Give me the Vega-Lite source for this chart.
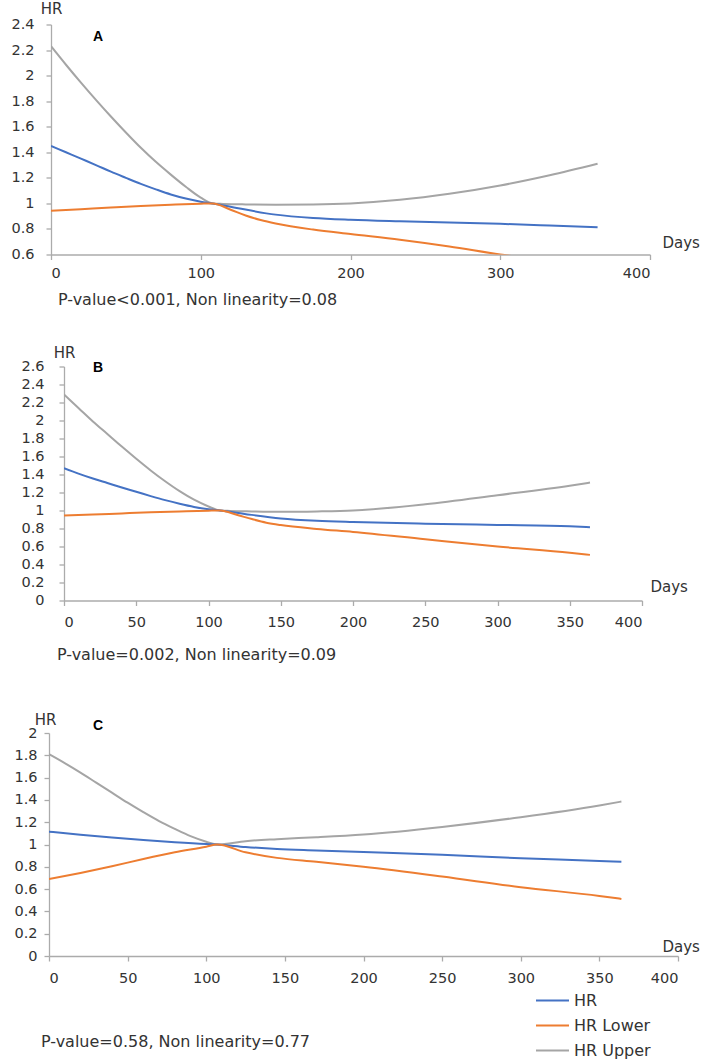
{
  "$schema": "https://vega.github.io/schema/vega-lite/v6.json",
  "padding": {"left": 0, "top": 1.5, "right": 0, "bottom": 0},
  "background": "white",
  "config": {
    "view": {"stroke": null},
    "font": "DejaVu Sans",
    "axis": {"grid": false, "domainColor": "#ababab", "tickColor": "#ababab", "domainWidth": 1.3, "tickWidth": 1.3, "tickSize": 5, "labelFont": "DejaVu Sans", "labelFontSize": 14.5, "labelColor": "#333333", "labelOverlap": false, "titleFont": "DejaVu Sans", "titleFontSize": 15, "titleFontWeight": "normal", "titleColor": "#333333"},
    "title": {"font": "DejaVu Sans", "fontSize": 16, "fontWeight": "normal", "color": "#333333", "orient": "bottom", "anchor": "start", "frame": "group"},
    "legend": {"orient": "none", "legendX": 535, "legendY": 963.5, "direction": "vertical", "symbolType": "stroke", "symbolSize": 1089, "symbolStrokeWidth": 2, "labelFont": "DejaVu Sans", "labelFontSize": 16, "labelColor": "#333333", "labelOffset": 4, "rowPadding": 0, "clipHeight": 25, "padding": 0, "title": null}
  },
  "datasets": {
    "dA": [
      {"day": 0, "series": "HR Upper", "hr": 2.23}, {"day": 10, "series": "HR Upper", "hr": 2.085}, {"day": 20, "series": "HR Upper", "hr": 1.945}, {"day": 30, "series": "HR Upper", "hr": 1.81}, {"day": 40, "series": "HR Upper", "hr": 1.68}, {"day": 50, "series": "HR Upper", "hr": 1.555}, {"day": 60, "series": "HR Upper", "hr": 1.435}, {"day": 70, "series": "HR Upper", "hr": 1.325}, {"day": 80, "series": "HR Upper", "hr": 1.225}, {"day": 90, "series": "HR Upper", "hr": 1.13}, {"day": 100, "series": "HR Upper", "hr": 1.045}, {"day": 108, "series": "HR Upper", "hr": 1.0}, {"day": 115, "series": "HR Upper", "hr": 0.996}, {"day": 130, "series": "HR Upper", "hr": 0.992}, {"day": 150, "series": "HR Upper", "hr": 0.99}, {"day": 175, "series": "HR Upper", "hr": 0.992}, {"day": 200, "series": "HR Upper", "hr": 1.0}, {"day": 233, "series": "HR Upper", "hr": 1.028}, {"day": 266, "series": "HR Upper", "hr": 1.075}, {"day": 300, "series": "HR Upper", "hr": 1.14}, {"day": 333, "series": "HR Upper", "hr": 1.22}, {"day": 365, "series": "HR Upper", "hr": 1.31},
      {"day": 0, "series": "HR", "hr": 1.45}, {"day": 10, "series": "HR", "hr": 1.4}, {"day": 20, "series": "HR", "hr": 1.35}, {"day": 30, "series": "HR", "hr": 1.3}, {"day": 40, "series": "HR", "hr": 1.248}, {"day": 50, "series": "HR", "hr": 1.2}, {"day": 60, "series": "HR", "hr": 1.153}, {"day": 70, "series": "HR", "hr": 1.11}, {"day": 80, "series": "HR", "hr": 1.07}, {"day": 90, "series": "HR", "hr": 1.038}, {"day": 100, "series": "HR", "hr": 1.013}, {"day": 108, "series": "HR", "hr": 1.0}, {"day": 125, "series": "HR", "hr": 0.962}, {"day": 150, "series": "HR", "hr": 0.912}, {"day": 175, "series": "HR", "hr": 0.886}, {"day": 200, "series": "HR", "hr": 0.872}, {"day": 233, "series": "HR", "hr": 0.86}, {"day": 266, "series": "HR", "hr": 0.85}, {"day": 300, "series": "HR", "hr": 0.84}, {"day": 333, "series": "HR", "hr": 0.827}, {"day": 365, "series": "HR", "hr": 0.814},
      {"day": 0, "series": "HR Lower", "hr": 0.942}, {"day": 20, "series": "HR Lower", "hr": 0.955}, {"day": 40, "series": "HR Lower", "hr": 0.968}, {"day": 60, "series": "HR Lower", "hr": 0.98}, {"day": 80, "series": "HR Lower", "hr": 0.99}, {"day": 100, "series": "HR Lower", "hr": 0.998}, {"day": 108, "series": "HR Lower", "hr": 1.0}, {"day": 120, "series": "HR Lower", "hr": 0.95}, {"day": 130, "series": "HR Lower", "hr": 0.905}, {"day": 140, "series": "HR Lower", "hr": 0.87}, {"day": 150, "series": "HR Lower", "hr": 0.843}, {"day": 175, "series": "HR Lower", "hr": 0.795}, {"day": 200, "series": "HR Lower", "hr": 0.76}, {"day": 233, "series": "HR Lower", "hr": 0.716}, {"day": 266, "series": "HR Lower", "hr": 0.663}, {"day": 300, "series": "HR Lower", "hr": 0.6}, {"day": 333, "series": "HR Lower", "hr": 0.55}, {"day": 365, "series": "HR Lower", "hr": 0.5}
    ],
    "dB": [
      {"day": 0, "series": "HR Upper", "hr": 2.29}, {"day": 10, "series": "HR Upper", "hr": 2.14}, {"day": 20, "series": "HR Upper", "hr": 1.99}, {"day": 30, "series": "HR Upper", "hr": 1.85}, {"day": 40, "series": "HR Upper", "hr": 1.71}, {"day": 50, "series": "HR Upper", "hr": 1.575}, {"day": 60, "series": "HR Upper", "hr": 1.445}, {"day": 70, "series": "HR Upper", "hr": 1.325}, {"day": 80, "series": "HR Upper", "hr": 1.215}, {"day": 90, "series": "HR Upper", "hr": 1.12}, {"day": 100, "series": "HR Upper", "hr": 1.045}, {"day": 108, "series": "HR Upper", "hr": 1.0}, {"day": 115, "series": "HR Upper", "hr": 0.995}, {"day": 130, "series": "HR Upper", "hr": 0.99}, {"day": 150, "series": "HR Upper", "hr": 0.986}, {"day": 175, "series": "HR Upper", "hr": 0.99}, {"day": 200, "series": "HR Upper", "hr": 1.0}, {"day": 250, "series": "HR Upper", "hr": 1.07}, {"day": 300, "series": "HR Upper", "hr": 1.17}, {"day": 350, "series": "HR Upper", "hr": 1.275}, {"day": 364, "series": "HR Upper", "hr": 1.31},
      {"day": 0, "series": "HR", "hr": 1.47}, {"day": 10, "series": "HR", "hr": 1.41}, {"day": 20, "series": "HR", "hr": 1.355}, {"day": 30, "series": "HR", "hr": 1.305}, {"day": 40, "series": "HR", "hr": 1.255}, {"day": 50, "series": "HR", "hr": 1.208}, {"day": 60, "series": "HR", "hr": 1.16}, {"day": 70, "series": "HR", "hr": 1.115}, {"day": 80, "series": "HR", "hr": 1.075}, {"day": 90, "series": "HR", "hr": 1.04}, {"day": 100, "series": "HR", "hr": 1.014}, {"day": 108, "series": "HR", "hr": 1.0}, {"day": 125, "series": "HR", "hr": 0.962}, {"day": 150, "series": "HR", "hr": 0.912}, {"day": 175, "series": "HR", "hr": 0.886}, {"day": 200, "series": "HR", "hr": 0.872}, {"day": 250, "series": "HR", "hr": 0.854}, {"day": 300, "series": "HR", "hr": 0.84}, {"day": 350, "series": "HR", "hr": 0.825}, {"day": 364, "series": "HR", "hr": 0.815},
      {"day": 0, "series": "HR Lower", "hr": 0.945}, {"day": 20, "series": "HR Lower", "hr": 0.955}, {"day": 40, "series": "HR Lower", "hr": 0.968}, {"day": 60, "series": "HR Lower", "hr": 0.98}, {"day": 80, "series": "HR Lower", "hr": 0.99}, {"day": 100, "series": "HR Lower", "hr": 0.998}, {"day": 108, "series": "HR Lower", "hr": 1.0}, {"day": 120, "series": "HR Lower", "hr": 0.95}, {"day": 130, "series": "HR Lower", "hr": 0.905}, {"day": 140, "series": "HR Lower", "hr": 0.865}, {"day": 150, "series": "HR Lower", "hr": 0.838}, {"day": 175, "series": "HR Lower", "hr": 0.795}, {"day": 200, "series": "HR Lower", "hr": 0.762}, {"day": 250, "series": "HR Lower", "hr": 0.68}, {"day": 300, "series": "HR Lower", "hr": 0.6}, {"day": 350, "series": "HR Lower", "hr": 0.53}, {"day": 364, "series": "HR Lower", "hr": 0.507}
    ],
    "dC": [
      {"day": 0, "series": "HR Upper", "hr": 1.81}, {"day": 10, "series": "HR Upper", "hr": 1.73}, {"day": 20, "series": "HR Upper", "hr": 1.645}, {"day": 30, "series": "HR Upper", "hr": 1.555}, {"day": 40, "series": "HR Upper", "hr": 1.465}, {"day": 50, "series": "HR Upper", "hr": 1.375}, {"day": 60, "series": "HR Upper", "hr": 1.29}, {"day": 70, "series": "HR Upper", "hr": 1.21}, {"day": 80, "series": "HR Upper", "hr": 1.14}, {"day": 90, "series": "HR Upper", "hr": 1.075}, {"day": 100, "series": "HR Upper", "hr": 1.025}, {"day": 107, "series": "HR Upper", "hr": 1.0}, {"day": 125, "series": "HR Upper", "hr": 1.03}, {"day": 145, "series": "HR Upper", "hr": 1.048}, {"day": 170, "series": "HR Upper", "hr": 1.065}, {"day": 200, "series": "HR Upper", "hr": 1.09}, {"day": 250, "series": "HR Upper", "hr": 1.158}, {"day": 300, "series": "HR Upper", "hr": 1.245}, {"day": 350, "series": "HR Upper", "hr": 1.35}, {"day": 364, "series": "HR Upper", "hr": 1.385},
      {"day": 0, "series": "HR", "hr": 1.115}, {"day": 20, "series": "HR", "hr": 1.088}, {"day": 40, "series": "HR", "hr": 1.063}, {"day": 60, "series": "HR", "hr": 1.04}, {"day": 80, "series": "HR", "hr": 1.02}, {"day": 100, "series": "HR", "hr": 1.004}, {"day": 107, "series": "HR", "hr": 1.0}, {"day": 125, "series": "HR", "hr": 0.978}, {"day": 145, "series": "HR", "hr": 0.96}, {"day": 170, "series": "HR", "hr": 0.947}, {"day": 200, "series": "HR", "hr": 0.932}, {"day": 250, "series": "HR", "hr": 0.907}, {"day": 300, "series": "HR", "hr": 0.877}, {"day": 350, "series": "HR", "hr": 0.853}, {"day": 364, "series": "HR", "hr": 0.845},
      {"day": 0, "series": "HR Lower", "hr": 0.69}, {"day": 20, "series": "HR Lower", "hr": 0.745}, {"day": 40, "series": "HR Lower", "hr": 0.805}, {"day": 60, "series": "HR Lower", "hr": 0.87}, {"day": 80, "series": "HR Lower", "hr": 0.93}, {"day": 100, "series": "HR Lower", "hr": 0.98}, {"day": 107, "series": "HR Lower", "hr": 1.0}, {"day": 125, "series": "HR Lower", "hr": 0.93}, {"day": 145, "series": "HR Lower", "hr": 0.88}, {"day": 170, "series": "HR Lower", "hr": 0.845}, {"day": 200, "series": "HR Lower", "hr": 0.8}, {"day": 250, "series": "HR Lower", "hr": 0.712}, {"day": 300, "series": "HR Lower", "hr": 0.617}, {"day": 350, "series": "HR Lower", "hr": 0.539}, {"day": 364, "series": "HR Lower", "hr": 0.512}
    ]
  },
  "spacing": 37,
  "vconcat": [
    {
      "spacing": 0,
      "hconcat": [
        {"width": 1, "height": 1, "data": {"values": [{}]}, "mark": {"type": "point", "opacity": 0, "size": 0, "strokeWidth": 0}, "encoding": {}},
        {
          "width": 599,
          "height": 230,
          "title": {"text": "P-value<0.001, Non linearity=0.08", "offset": 12, "dx": 7},
          "encoding": {
            "x": {"field": "day", "type": "quantitative", "scale": {"domain": [0, 400], "nice": false}, "axis": {"values": [0, 100, 200, 300, 400], "labelPadding": 7, "labelOverlap": false, "title": "Days", "titleX": 611, "titleY": -12, "titleAlign": "left", "titleBaseline": "middle", "titleAnchor": null}},
            "y": {"field": "hr", "type": "quantitative", "scale": {"domain": [0.6, 2.4], "nice": false, "zero": false}, "axis": {"values": [0.6, 0.8, 1, 1.2, 1.4, 1.6, 1.8, 2, 2.2, 2.4], "format": ".1~f", "labelPadding": 12, "labelOverlap": false, "minExtent": 50, "title": "HR", "titleAngle": 0, "titleX": 0, "titleY": -16, "titleAlign": "center", "titleBaseline": "middle"}}
          },
          "layer": [
            {
              "data": {"name": "dA"},
              "mark": {"type": "line", "interpolate": "monotone", "strokeWidth": 2, "clip": true},
              "encoding": {
                "color": {"field": "series", "type": "nominal", "scale": {"domain": ["HR", "HR Lower", "HR Upper"], "range": ["#4472C4", "#ED7D31", "#A5A5A5"]}}
              }
            },
            {
              "data": {"values": [{"letter": "A", "day": 31.4, "hr": 2.306}]},
              "mark": {"type": "text", "font": "Liberation Sans", "fontWeight": "bold", "fontSize": 14, "color": "#000000", "align": "center", "baseline": "middle"},
              "encoding": {"text": {"field": "letter"}}
            }
          ]
        }
      ]
    },
    {
      "spacing": 48.5,
      "vconcat": [
        {
          "spacing": 0,
          "hconcat": [
            {"width": 1, "height": 1, "data": {"values": [{}]}, "mark": {"type": "point", "opacity": 0, "size": 0, "strokeWidth": 0}, "encoding": {}},
            {
              "width": 578,
              "height": 234,
              "title": {"text": "P-value=0.002, Non linearity=0.09", "offset": 18, "dx": -7},
              "encoding": {
                "x": {"field": "day", "type": "quantitative", "scale": {"domain": [0, 400], "nice": false}, "axis": {"values": [0, 50, 100, 150, 200, 250, 300, 350, 400], "labelPadding": 10, "labelOverlap": false, "title": "Days", "titleX": 586, "titleY": -14, "titleAlign": "left", "titleBaseline": "middle", "titleAnchor": null}},
                "y": {"field": "hr", "type": "quantitative", "scale": {"domain": [0, 2.6], "nice": false}, "axis": {"values": [0, 0.2, 0.4, 0.6, 0.8, 1, 1.2, 1.4, 1.6, 1.8, 2, 2.2, 2.4, 2.6], "format": ".1~f", "labelPadding": 15, "labelOverlap": false, "minExtent": 63, "title": "HR", "titleAngle": 0, "titleX": 0, "titleY": -14, "titleAlign": "center", "titleBaseline": "middle"}}
              },
              "layer": [
                {
                  "data": {"name": "dB"},
                  "mark": {"type": "line", "interpolate": "monotone", "strokeWidth": 2, "clip": true},
                  "encoding": {
                    "color": {"field": "series", "type": "nominal", "scale": {"domain": ["HR", "HR Lower", "HR Upper"], "range": ["#4472C4", "#ED7D31", "#A5A5A5"]}}
                  }
                },
                {
                  "data": {"values": [{"letter": "B", "day": 23.5, "hr": 2.58}]},
                  "mark": {"type": "text", "font": "Liberation Sans", "fontWeight": "bold", "fontSize": 14, "color": "#000000", "align": "center", "baseline": "middle"},
                  "encoding": {"text": {"field": "letter"}}
                }
              ]
            }
          ]
        },
        {
          "spacing": 0,
          "hconcat": [
            {"width": 1, "height": 1, "data": {"values": [{}]}, "mark": {"type": "point", "opacity": 0, "size": 0, "strokeWidth": 0}, "encoding": {}},
            {
              "width": 629,
              "height": 223,
              "title": {"text": "P-value=0.58, Non linearity=0.77", "offset": 49, "dx": -8},
              "encoding": {
                "x": {"field": "day", "type": "quantitative", "scale": {"domain": [0, 400], "nice": false}, "axis": {"values": [0, 50, 100, 150, 200, 250, 300, 350, 400], "labelPadding": 10, "labelOverlap": false, "title": "Days", "titleX": 613, "titleY": -10, "titleAlign": "left", "titleBaseline": "middle", "titleAnchor": null}},
                "y": {"field": "hr", "type": "quantitative", "scale": {"domain": [0, 2], "nice": false}, "axis": {"values": [0, 0.2, 0.4, 0.6, 0.8, 1, 1.2, 1.4, 1.6, 1.8, 2], "format": ".1~f", "labelPadding": 7, "labelOverlap": false, "minExtent": 48, "title": "HR", "titleAngle": 0, "titleX": -4, "titleY": -14, "titleAlign": "center", "titleBaseline": "middle"}}
              },
              "layer": [
                {
                  "data": {"name": "dC"},
                  "mark": {"type": "line", "interpolate": "monotone", "strokeWidth": 2, "clip": true},
                  "encoding": {
                    "color": {"field": "series", "type": "nominal", "scale": {"domain": ["HR", "HR Lower", "HR Upper"], "range": ["#4472C4", "#ED7D31", "#A5A5A5"]}}
                  }
                },
                {
                  "data": {"values": [{"letter": "C", "day": 31.2, "hr": 2.066}]},
                  "mark": {"type": "text", "font": "Liberation Sans", "fontWeight": "bold", "fontSize": 14, "color": "#000000", "align": "center", "baseline": "middle"},
                  "encoding": {"text": {"field": "letter"}}
                }
              ]
            }
          ]
        }
      ]
    }
  ]
}
